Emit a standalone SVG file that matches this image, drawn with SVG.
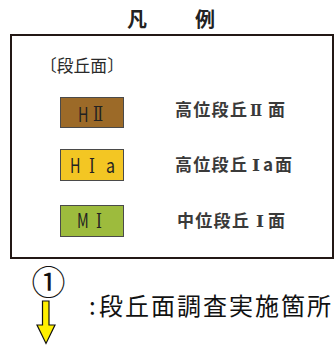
<svg xmlns="http://www.w3.org/2000/svg" width="336" height="353" viewBox="0 0 336 353">
<style>
.t{font-family:"Noto Sans CJK JP","Liberation Sans",sans-serif;fill:#3a3a3a}
.ttl{font-size:20px;font-weight:700;fill:#222}
.lab{font-size:17px;font-weight:700}
.sw{stroke:#4a4a4a;stroke-width:1}
.in{font-family:"Noto Sans CJK JP","Liberation Sans",sans-serif;fill:#222;font-size:20px}
.num{font-family:"DejaVu Serif","Liberation Serif","Noto Sans CJK JP",serif}
</style>
<rect width="336" height="353" fill="#fff"/>
<g id="title">
<text class="t ttl" x="127" y="27">凡</text>
<text class="t ttl" x="195" y="27">例</text>
</g>
<g id="legend-frame">
<rect x="11" y="35" width="322" height="223" fill="none" stroke="#231815" stroke-width="2"/>
<text class="t" x="40" y="72" font-size="16.8" style="fill:#2a2a2a">〔段丘面〕</text>
</g>
<g id="HII">
<rect class="sw" x="60.5" y="97.5" width="63" height="30" fill="#9C6A28"/>
<text class="in" transform="translate(78,122) scale(0.72,1)">H</text>
<text class="in num" font-size="18" transform="translate(93,121) scale(0.75,1)">Ⅱ</text>
<text class="t lab" x="175" y="116" letter-spacing="1.3">高位段丘</text>
<text class="t lab num" x="250" y="116" font-size="15" transform="translate(250,0) scale(0.85,1) translate(-250,0)">Ⅱ</text>
<text class="t lab" x="268" y="116">面</text>
</g>
<g id="HIa">
<rect class="sw" x="60.5" y="149.5" width="63" height="31" fill="#F3C623"/>
<text class="in" transform="translate(70,173) scale(0.72,1)">H</text>
<text class="in num" font-size="19" transform="translate(89,173) scale(0.75,1)">Ⅰ</text>
<text class="in" transform="translate(106,173) scale(0.8,1)">a</text>
<text class="t lab" x="175" y="171" letter-spacing="1.3">高位段丘</text>
<text class="t lab num" x="252" y="171" font-size="15">Ⅰ</text>
<text class="t lab" x="263" y="171">a</text>
<text class="t lab" x="275" y="171">面</text>
</g>
<g id="MI">
<rect class="sw" x="60.5" y="205.5" width="63" height="31" fill="#9DBB3D"/>
<text class="in" transform="translate(77,228) scale(0.72,1)">M</text>
<text class="in num" font-size="19" transform="translate(96,228) scale(0.75,1)">Ⅰ</text>
<text class="t lab" x="177" y="227" letter-spacing="1.3">中位段丘</text>
<text class="t lab num" x="256" y="227" font-size="15">Ⅰ</text>
<text class="t lab" x="268" y="227">面</text>
</g>
<g id="marker-legend">
<text class="t" x="48.5" y="295" font-size="34" text-anchor="middle" style="fill:#111">①</text>
<polygon points="42.5,301 49,301 49,325 55,325 46,343.5 37,325 42.5,325" fill="#FFF000" stroke="#111" stroke-width="1.2" stroke-linejoin="miter"/>
<text class="t" x="89" y="315" font-size="24" style="fill:#111">:</text>
<text class="t" x="99" y="315" font-size="24" letter-spacing="2" style="fill:#111">段丘面調査実施箇所</text>
</g>
<g id="connectors"/>
</svg>
